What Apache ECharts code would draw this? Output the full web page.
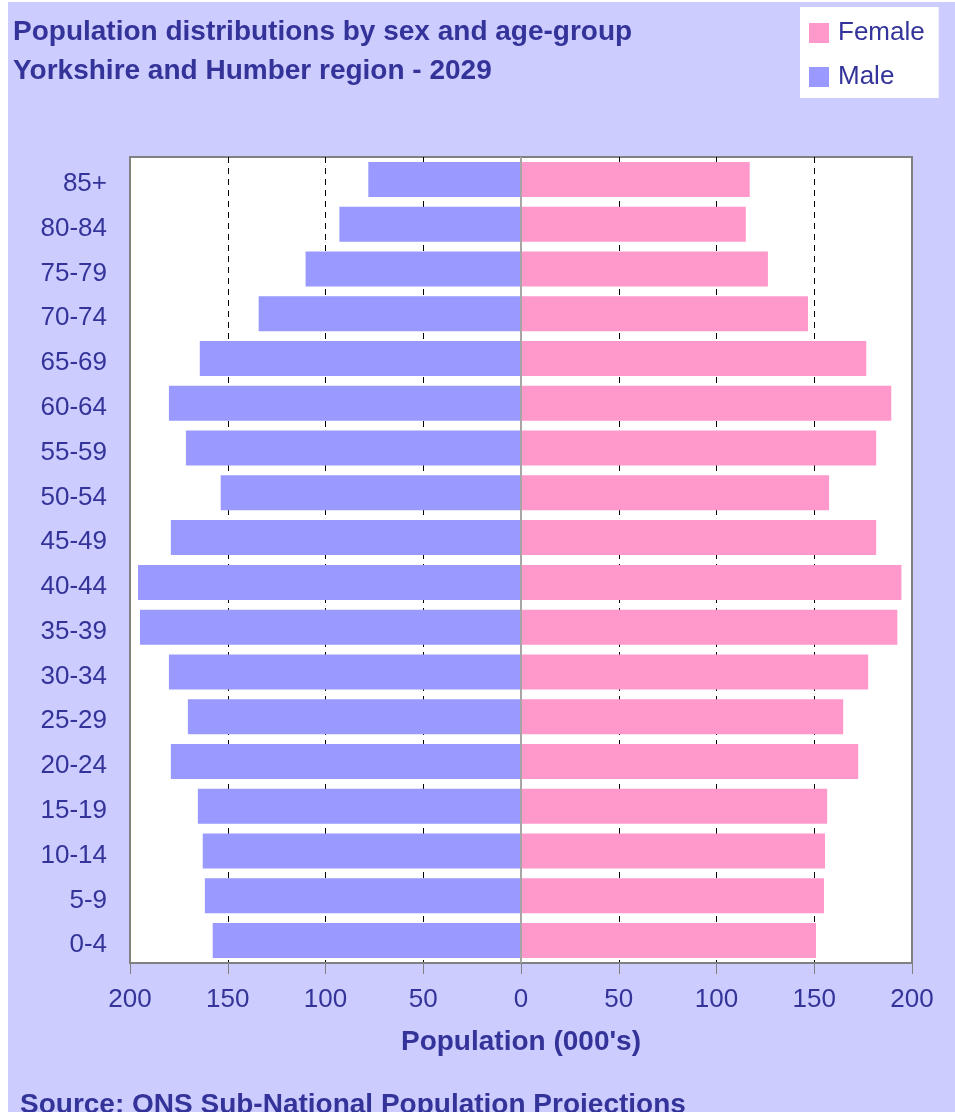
<!DOCTYPE html>
<html>
<head>
<meta charset="utf-8">
<script src="https://cdn.jsdelivr.net/npm/echarts@6/dist/echarts.min.js"></script>
<style>
  html, body { margin: 0; padding: 0; background: #fff; }
  #main { position: absolute; left: 8px; top: 2px; width: 947px; height: 1110px; }
</style>
</head>
<body>
<div id="main"></div>
<script>
  // age groups, bottom to top
  var ageGroups = ['0-4','5-9','10-14','15-19','20-24','25-29','30-34','35-39','40-44',
                   '45-49','50-54','55-59','60-64','65-69','70-74','75-79','80-84','85+'];
  // population in thousands
  var male   = [157.7,161.7,162.8,165.3,179.1,170.4,180.1,194.9,195.9,
                179.1,153.6,171.4,180.1,164.3,134.2,110.2,92.9,78.1];
  var female = [150.9,155.0,155.5,156.6,172.5,164.8,177.6,192.5,194.6,
                181.7,157.6,181.7,189.4,176.6,146.8,126.3,115.0,117.0];
  var xTicks = [-200,-150,-100,-50,0,50,100,150,200];

  var navy = '#333399';
  var font = '"Liberation Sans", Arial, sans-serif';

  // dashed gridlines everywhere except on the plot border
  var gridColors = xTicks.map(function (t, i) {
    return (i === 0 || i === xTicks.length - 1) ? 'rgba(0,0,0,0)' : '#000';
  });

  var myChart = echarts.init(document.getElementById('main'));

  var option = {
    backgroundColor: '#ccccff',
    textStyle: { fontFamily: font },
    title: {
      text: 'Population distributions by sex and age-group\nYorkshire and Humber region - 2029',
      left: 5, top: 11, padding: 0,
      textStyle: { fontFamily: font, fontSize: 28, fontWeight: 'bold', color: navy, lineHeight: 39 }
    },
    legend: {
      data: ['Female', 'Male'],
      orient: 'vertical',
      left: 792, top: 5,
      backgroundColor: '#fff',
      padding: [13, 14, 8, 9],
      itemGap: 18,
      itemWidth: 20, itemHeight: 20,
      icon: 'rect',
      textStyle: { fontFamily: font, fontSize: 26, color: navy, padding: [0, 0, 0, 4] }
    },
    grid: {
      left: 122, right: 43, top: 155, bottom: 149,
      show: true, backgroundColor: '#fff', borderColor: '#808080', borderWidth: 2
    },
    xAxis: {
      type: 'value',
      min: xTicks[0], max: xTicks[xTicks.length - 1], interval: 50,
      name: "Population (000's)",
      nameLocation: 'middle', nameGap: 65,
      nameTextStyle: { fontFamily: font, fontSize: 28, fontWeight: 'bold', color: navy },
      axisLine: { show: true, lineStyle: { color: '#808080', width: 2 } },
      axisTick: { show: true, length: 11, lineStyle: { color: '#808080' } },
      axisLabel: {
        fontSize: 26, color: navy, margin: 24,
        formatter: function (v) { return Math.abs(v); }
      },
      splitLine: { show: true, lineStyle: { color: gridColors, type: [6, 5], width: 1 } }
    },
    yAxis: {
      type: 'category',
      data: ageGroups,
      axisLine: { show: false },
      axisTick: { show: false },
      axisLabel: {
        margin: 23,
        formatter: function (v) { return '{a|' + v + '}'; },
        rich: { a: { fontFamily: font, fontSize: 26, color: navy, padding: [9, 0, 0, 0] } }
      }
    },
    graphic: [{
      type: 'text', left: 12, top: 1089,
      style: { text: 'Source: ONS Sub-National Population Projections', fill: navy,
               font: 'bold 28px ' + font }
    }],
    series: [
      {
        name: 'Male', type: 'bar', stack: 'pop', barWidth: 35,
        itemStyle: { color: '#9999ff' },
        data: male.map(function (v) { return -v; })
      },
      {
        name: 'Female', type: 'bar', stack: 'pop', barWidth: 35,
        itemStyle: { color: '#ff99cc' },
        data: female,
        markLine: {
          silent: true, symbol: 'none',
          label: { show: false },
          lineStyle: { color: '#a6a6a6', type: 'solid', width: 2 },
          data: [{ xAxis: 0 }]
        }
      }
    ]
  };

  myChart.setOption(option);
</script>
</body>
</html>
